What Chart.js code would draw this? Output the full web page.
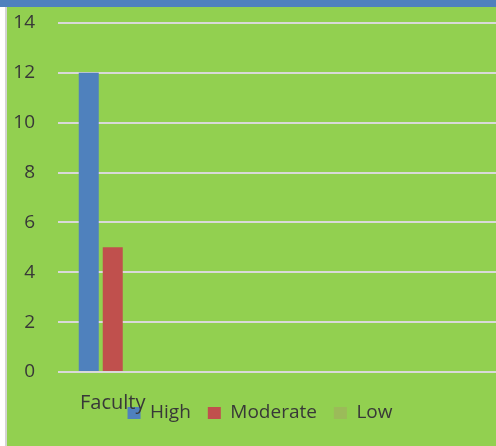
<!DOCTYPE html>
<html>
<head>
<meta charset="utf-8">
<script src="https://cdn.jsdelivr.net/npm/chart.js@4/dist/chart.umd.min.js"></script>
<style>
  html, body { margin: 0; padding: 0; width: 496px; height: 446px; overflow: hidden; background: #ffffff; }
  #wrap { position: absolute; left: 0; top: 0; width: 496px; height: 446px; }
  #topband { position: absolute; left: 0; top: 0; width: 496px; height: 7px; background: #4f81bd; }
  #leftstrip { position: absolute; left: 0; top: 7px; width: 5px; height: 439px; background: #ffffff; border-right: 2px solid #d4d4d4; }
</style>
</head>
<body>
<div id="wrap"><canvas id="c" width="496" height="446"></canvas></div>
<div id="topband"></div>
<div id="leftstrip"></div>
<script>
const categories = ['Faculty'];
const seriesNames = ['High', 'Moderate', 'Low'];
const highValues = [12];
const moderateValues = [5];
const lowValues = [0];
const yTicks = [0, 2, 4, 6, 8, 10, 12, 14];
const seriesColors = ['#4f81bd', '#c0504d', '#9bbb59'];

// the visible plot is a cropped part of a wider category axis
const axisSlots = categories.concat(['', '', '']);

const bgPlugin = {
  id: 'bg',
  beforeDraw(chart) {
    const ctx = chart.ctx;
    ctx.save();
    ctx.fillStyle = '#92d050';
    ctx.fillRect(0, 0, chart.width, chart.height);
    ctx.restore();
  }
};

// nudge the legend row a little to the right, as in the original layout
const legendShift = {
  id: 'legendShift',
  afterLayout(chart) {
    if (chart.legend) { chart.legend.left += 6; chart.legend.right += 6; }
  }
};

const font = { family: "'Open Sans', sans-serif", size: 19 };
const xFont = { family: "'Open Sans', sans-serif", size: 20 };
const textColor = '#383838';

new Chart(document.getElementById('c'), {
  type: 'bar',
  data: {
    labels: axisSlots,
    datasets: [
      { label: seriesNames[0], data: highValues, backgroundColor: seriesColors[0] },
      { label: seriesNames[1], data: moderateValues, backgroundColor: seriesColors[1] },
      { label: seriesNames[2], data: lowValues, backgroundColor: seriesColors[2] }
    ]
  },
  options: {
    responsive: false,
    animation: false,
    devicePixelRatio: 1,
    categoryPercentage: 0.6575,
    barPercentage: 0.8333,
    layout: { padding: { left: 12, top: 23, right: 0, bottom: 13.5 } },
    plugins: {
      legend: {
        position: 'bottom',
        labels: { boxWidth: 13, boxHeight: 12, padding: 17, font: font, color: textColor }
      },
      tooltip: { enabled: false }
    },
    scales: {
      x: {
        grid: { display: false },
        border: { display: false },
        ticks: { font: xFont, color: textColor, padding: -43.6, mirror: true, maxRotation: 0, autoSkip: false },
        afterFit(scale) { scale.height = 14.5; }
      },
      y: {
        min: yTicks[0],
        max: yTicks[yTicks.length - 1],
        afterBuildTicks(scale) { scale.ticks = yTicks.map(v => ({ value: v })); },
        grid: { color: '#d9d9d9', lineWidth: 2, drawTicks: true, tickLength: 23, tickColor: 'rgba(0,0,0,0)' },
        border: { display: false },
        ticks: { font: font, color: textColor, padding: 0 },
        afterFit(scale) { scale.width = 46; }
      }
    }
  },
  plugins: [bgPlugin, legendShift]
});
</script>
</body>
</html>
